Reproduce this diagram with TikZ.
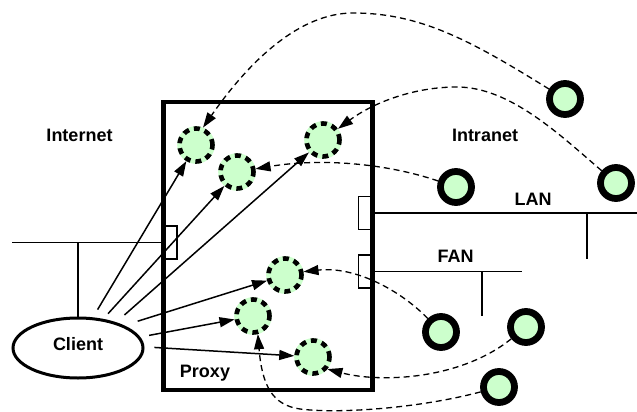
\documentclass[tikz,border=0pt]{standalone}
\usepackage{fontspec}
\setmainfont{Liberation Sans}
\usetikzlibrary{arrows.meta,shapes.geometric}
\definecolor{pale}{RGB}{204,255,204}
\begin{document}
\begin{tikzpicture}[x=1pt,y=-1pt,
  lbl/.style={font=\fontsize{18}{20}\selectfont\bfseries, inner sep=0pt, anchor=base},
  pobj/.style={circle, minimum size=33pt, inner sep=0pt, fill=pale, draw=black,
    line width=4.6pt, dash pattern=on 6pt off 5pt, preaction={draw=pale, solid, line width=4.6pt}},
  sobj/.style={circle, minimum size=31pt, inner sep=0pt, fill=pale, draw=black, line width=6.8pt},
  portbox/.style={draw, line width=1.3pt, inner sep=0pt, minimum width=14.5pt, minimum height=33pt},
  net/.style={line width=1.3pt},
  arr/.style={line width=1.5pt, -{Triangle[length=15pt,width=10pt]}},
  dcon/.style={line width=1.3pt, dash pattern=on 6pt off 4pt, -{Triangle[length=15pt,width=10pt]}}
]
\useasboundingbox (0,0) rectangle (637,412);

% proxy box and ports
\node (proxy) [draw, line width=4.3pt, minimum width=209pt, minimum height=288pt, inner sep=0pt] at (268,246) {};
\node (portL) [portbox, minimum width=14pt] at (170,242.5) {};
\node (portR1) [portbox] at (365.5,213) {};
\node (portR2) [portbox] at (365.5,271.5) {};

% client
\node (client) [ellipse, draw, line width=3pt, minimum width=130pt, minimum height=60pt,
  inner sep=0pt, text height=13pt, text depth=9pt, font=\fontsize{18}{20}\selectfont\bfseries] at (78,348) {Client};

% networks
\coordinate (netLw) at (12,242.5);
\coordinate (tapL) at (78,242.5);
\draw[net] (netLw) -- (portL.west);
\draw[net] (tapL) -- (client);

\coordinate (lanEnd) at (637,213);
\coordinate (lanTap) at (587,213);
\coordinate (lanDrop) at (587,259);
\draw[net] (portR1.east) -- (lanEnd);
\draw[net] (lanTap) -- (lanDrop);

\coordinate (fanEnd) at (522,271.5);
\coordinate (fanTap) at (482,271.5);
\coordinate (fanDrop) at (482,316);
\draw[net] (portR2.east) -- (fanEnd);
\draw[net] (fanTap) -- (fanDrop);

% labels
\node[lbl] (tInternet) at (79.5,141) {Internet};
\node[lbl] (tIntranet) at (485,141) {Intranet};
\node[lbl] (tLAN) at (533,205) {LAN};
\node[lbl] (tFAN) at (455.5,262) {FAN};
\node[lbl] (tProxy) at (205,377) {Proxy};

% proxy objects
\node (A) [pobj] at (196,145) {};
\node (B) [pobj] at (237,172) {};
\node (C) [pobj] at (323,140) {};
\node (D) [pobj] at (285,275) {};
\node (E) [pobj] at (253,316) {};
\node (F) [pobj] at (313,357) {};

% outside objects
\node (G1) [sobj] at (565,99) {};
\node (G2) [sobj] at (616,183) {};
\node (G3) [sobj] at (456,187) {};
\node (G4) [sobj] at (441,332) {};
\node (G5) [sobj] at (526,327) {};
\node (G6) [sobj] at (499,387) {};

% client requests
\draw[arr, shorten <=9pt] (client.64) -- (A);
\draw[arr, shorten <=7pt] (client.49) -- (B);
\draw[arr, shorten <=11pt] (client.34) -- (C);
\draw[arr, shorten <=14pt] (client.26) -- (D);
\draw[arr, shorten <=9pt] (client.10) -- (E);
\draw[arr, shorten <=10pt] (client.1) -- (F);

% dashed fetches
\draw[dcon] (G1) .. controls (470,40) and (420,13) .. (353,13)
  .. controls (300,13) and (250,60) .. (A.68);
\draw[dcon] (G2) .. controls (560,135) and (510,87) .. (457,87)
  .. controls (410,87) and (370,105) .. (C);
\draw[dcon] (G3) .. controls (385,163) and (320,158) .. (B);
\draw[dcon] (G4) .. controls (400,290) and (355,266) .. (D.10);
\draw[dcon] (G5) .. controls (460,380) and (380,383) .. (F.-40);
\draw[dcon] (G6) .. controls (420,408) and (340,414) .. (300,409)
  .. controls (272,405) and (262,385) .. (E.-75);
\end{tikzpicture}
\end{document}
